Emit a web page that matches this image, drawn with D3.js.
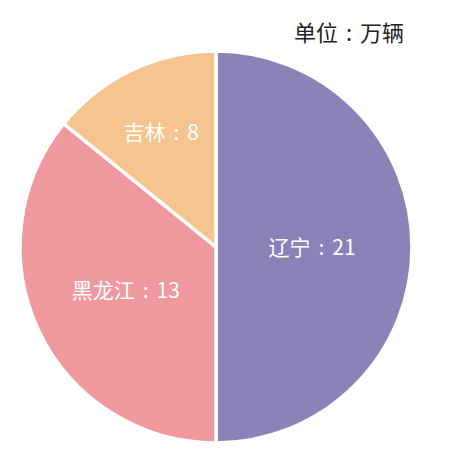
<!DOCTYPE html>
<html lang="zh">
<head>
    <meta charset="UTF-8">
    <title>单位：万辆</title>
    <script src="https://d3js.org/d3.v7.min.js"></script>
    <style>
      body { margin: 0; background: #ffffff; }
      text { font-family: "Noto Sans CJK SC", "Noto Sans", sans-serif; }
    </style>
</head>
<body>
<svg id="mainCanvas" width="450" height="455"></svg>
<script>

// chart data
let provinces = ['辽宁', '黑龙江', '吉林'];
let values = [21, 13, 8];
// the picture does not draw the slices in proportion to the labels,
// so the slice sizes (degrees) are read off the picture separately
let sliceAngles = [180, 129, 51];
let colours = ['#8b83b7', '#ef999e', '#f5c48f'];
let unitName = ['单位', '万辆'];

// how far out each label sits, as a share of the radius
let labelRadius = [0.49, 0.51, 0.65];

let cx = 216;
let cy = 247;
let radius = 196;

let svg = d3.select('#mainCanvas');

let pie = d3.pie().sort(null).value(function (d) { return d; });
let arcs = pie(sliceAngles);

let arc = d3.arc().innerRadius(0).outerRadius(radius);

let g = svg.append('g').attr('transform', 'translate(' + cx + ',' + cy + ')');

g.selectAll('path.slice')
    .data(arcs)
    .enter().append('path')
    .attr('class', 'slice')
    .attr('d', arc)
    .style('fill', function (d, i) { return colours[i]; })
    .style('stroke', '#ffffff')
    .style('stroke-width', 3.5)
    .style('stroke-linejoin', 'miter');

// colon sits in the middle with a gap each side, like the original
let addColonText = function (sel, before, after, gap) {
    sel.append('tspan').text(before);
    sel.append('tspan').attr('dx', gap).text(':');
    sel.append('tspan').attr('dx', gap).text(after);
};

g.selectAll('text.label')
    .data(arcs)
    .enter().append('text')
    .attr('class', 'label')
    .attr('transform', function (d, i) {
        let r = radius * labelRadius[i];
        let la = d3.arc().innerRadius(r).outerRadius(r);
        return 'translate(' + la.centroid(d) + ')';
    })
    .attr('text-anchor', 'middle')
    .attr('dy', '0.36em')
    .style('fill', '#ffffff')
    .style('font-size', '21px')
    .each(function (d, i) {
        addColonText(d3.select(this), provinces[i], values[i], 8);
    });

let unit = svg.append('text')
    .attr('x', 349)
    .attr('y', 33)
    .attr('text-anchor', 'middle')
    .attr('dy', '0.36em')
    .style('fill', '#222222')
    .style('font-size', '22px');
addColonText(unit, unitName[0], unitName[1], 8);

</script>
</body>
</html>
